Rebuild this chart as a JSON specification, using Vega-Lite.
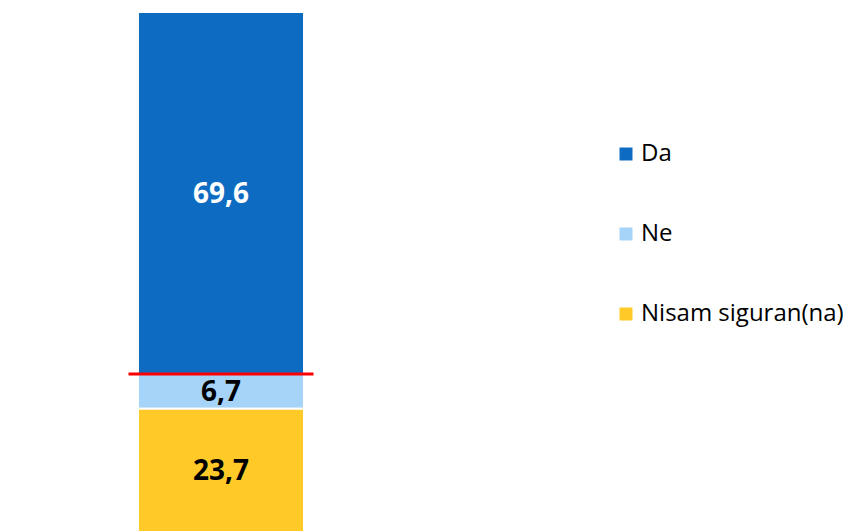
{
  "$schema": "https://vega.github.io/schema/vega-lite/v6.json",
  "width": 442,
  "height": 520,
  "autosize": {"type": "none"},
  "padding": {"left": 0, "top": 12, "right": 407, "bottom": 0},
  "background": "white",
  "config": {
    "view": {"stroke": null},
    "locale": {"number": {"decimal": ",", "thousands": ".", "grouping": [3], "currency": ["", " €"]}}
  },
  "data": {
    "values": [
      {"q": "Q", "answer": "Da", "value": 69.6},
      {"q": "Q", "answer": "Ne", "value": 6.7},
      {"q": "Q", "answer": "Nisam siguran(na)", "value": 23.7}
    ]
  },
  "encoding": {
    "x": {"field": "q", "type": "nominal", "axis": null, "scale": {"paddingInner": 0, "paddingOuter": 0.831}}
  },
  "layer": [
    {
      "mark": {"type": "bar", "stroke": "white", "strokeWidth": 2},
      "encoding": {
        "y": {"field": "value", "type": "quantitative", "stack": "zero", "axis": null, "scale": {"domain": [0, 100], "nice": false}},
        "color": {
          "field": "answer", "type": "nominal",
          "scale": {"domain": ["Da", "Ne", "Nisam siguran(na)"], "range": ["#0D6CC2", "#A6D3F8", "#FFCA28"]},
          "legend": {
            "title": null, "orient": "none", "legendX": 614, "legendY": 130,
            "symbolType": "square", "symbolSize": 169, "symbolStrokeWidth": 0,
            "labelFont": "Open Sans", "labelFontSize": 24, "labelColor": "black",
            "labelOffset": 3, "rowPadding": 56, "padding": 0, "labelLimit": 400
          }
        },
        "order": {"field": "answer", "sort": "descending"}
      }
    },
    {
      "mark": {"type": "text", "font": "Open Sans", "fontWeight": "bold", "fontSize": 28, "baseline": "middle", "align": "center", "dy": 2},
      "encoding": {
        "y": {"field": "value", "type": "quantitative", "stack": "zero", "bandPosition": 0.5},
        "order": {"field": "answer", "sort": "descending"},
        "text": {"field": "value", "type": "quantitative", "format": ".1f"},
        "color": {"condition": {"test": "datum.answer === 'Da'", "value": "white"}, "value": "black"}
      }
    },
    {
      "data": {"values": [{"q": "Q", "line": 30.4}]},
      "mark": {"type": "tick", "color": "#FF0000", "size": 185, "thickness": 3, "opacity": 1},
      "encoding": {
        "y": {"field": "line", "type": "quantitative"}
      }
    }
  ]
}
